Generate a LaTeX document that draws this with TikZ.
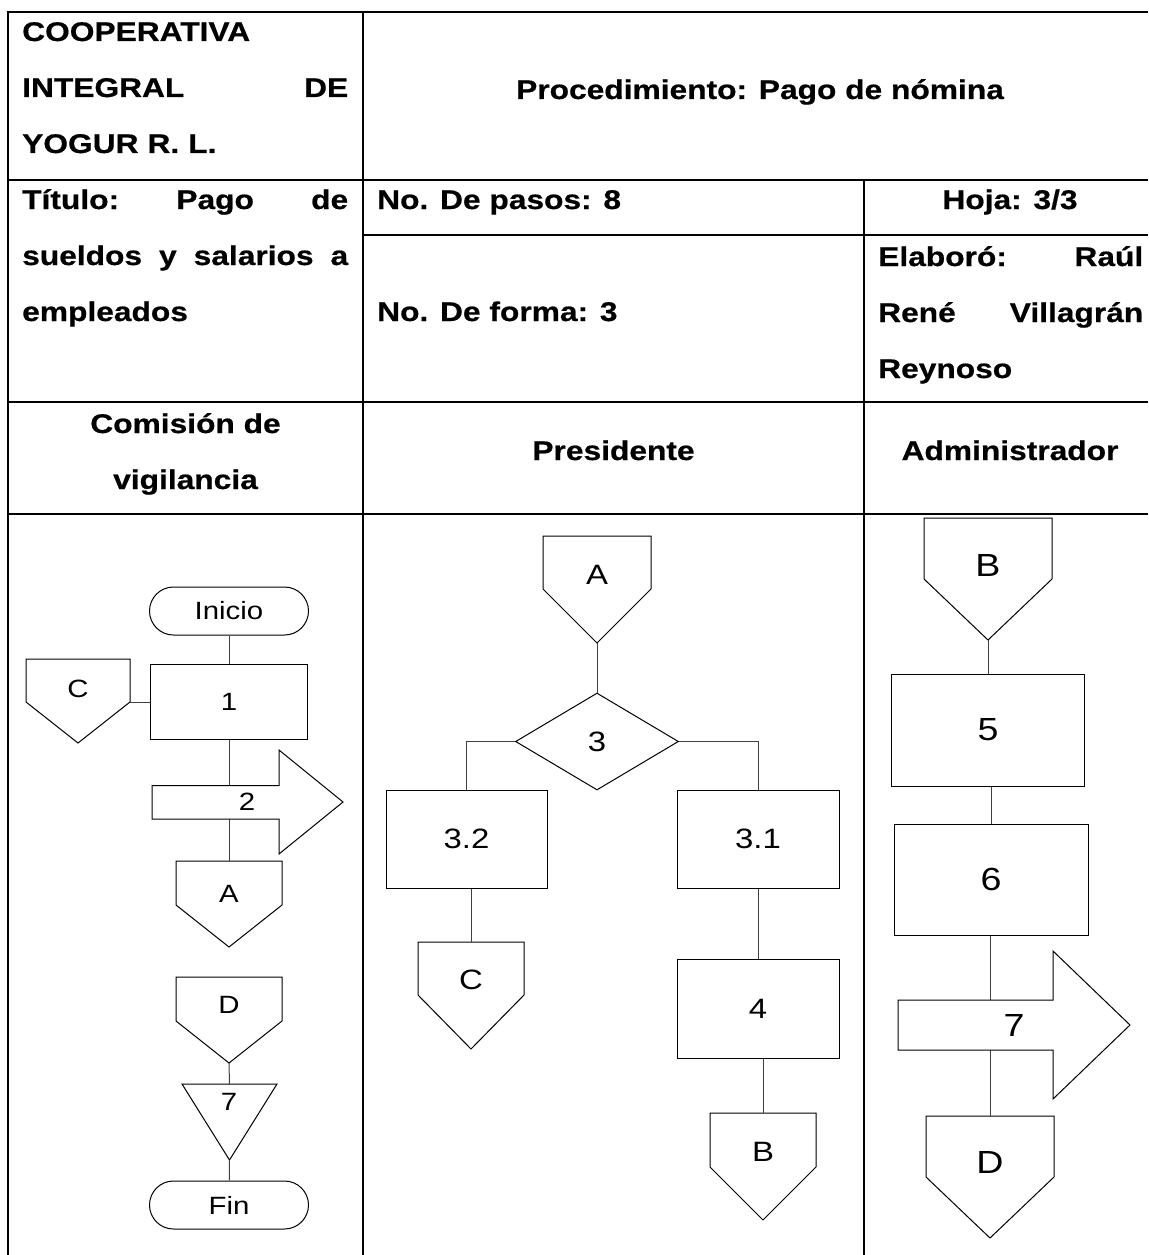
\documentclass[tikz,border=0pt]{standalone}
\usepackage{fontspec}
\setmainfont{Liberation Sans}[FakeStretch=1.175, BoldFeatures={FakeBold=0.6}]
\setlength{\parindent}{0pt}
\usetikzlibrary{positioning,shapes.geometric,shapes.misc}

\tikzset{
  % lineas de la tabla
  rejilla/.style={line width=2.6pt, black},
  % texto del encabezado
  encab/.style={font=\bfseries\fontsize{27}{56}\selectfont, inner sep=0pt},
  % etiquetas del diagrama
  lbl/.style={font=\fontsize{#1}{#1}\selectfont, inner sep=0pt},
  pequena/.style={lbl=25},
  mediana/.style={lbl=28},
  grande/.style={lbl=32},
  % simbolos
  proceso/.style={draw, line width=1pt, rectangle, inner sep=0pt},
  terminal/.style={draw, line width=1pt, rounded rectangle, minimum width=159pt,
    minimum height=48pt, inner sep=0pt},
  decision/.style={draw, line width=1pt, diamond, inner sep=0pt},
  simbolo/.style={draw, line width=1pt, fill=white},
  linea/.style={line width=1pt, black!75},
}

\begin{document}
\begin{tikzpicture}[x=1pt, y=-1pt]
  \useasboundingbox (0,0) rectangle (1148,1255);

  % Tabla
  \draw[rejilla] (1148,12) -- (8,12) -- (8,1255);
  \draw[rejilla] (363,12) -- (363,1255);
  \draw[rejilla] (864,180) -- (864,1255);
  \foreach \y in {180,402,514}
    \draw[rejilla] (8,\y) -- (1148,\y);
  \draw[rejilla] (363,235) -- (1148,235);

  % Encabezado
  \node[encab, text width=326pt, align=left, anchor=base west] (coop) at (22,41)
    {COOPERATIVA\\ INTEGRAL\hfill DE\\ YOGUR R. L.};
  \node[encab, anchor=base] (proc) at (760,99) {Procedimiento: Pago de nómina};
  \node[encab, text width=326pt, align=left, anchor=base west] (titulo) at (22,209)
    {Título:\hfill Pago\hfill de\\ sueldos\hfill y\hfill salarios\hfill a\\ empleados};
  \node[encab, anchor=base west] (pasos) at (377,209) {No. De pasos: 8};
  \node[encab, anchor=base] (hoja) at (1010,209) {Hoja: 3/3};
  \node[encab, anchor=base west] (forma) at (377,321) {No. De forma: 3};
  \node[encab, text width=265pt, align=left, anchor=base west] (elab) at (878,266)
    {Elaboró:\hfill Raúl\\ René\hfill Villagrán\\ Reynoso};
  \node[encab, align=center, anchor=base] (comision) at (185.5,489) {Comisión de\\ vigilancia};
  \node[encab, anchor=base] (pres) at (613.5,460) {Presidente};
  \node[encab, anchor=base] (adm) at (1010,460) {Administrador};

  % Conectores fuera de pagina
  \foreach \nom/\cx/\ar/\hw/\lado/\punta in {conC1/78/659/52/43/41, conA1/229/861/53/44/42,
      conD1/229/977/53/44/42, conA2/597/536/54/53/54, conC2/471/942/53/53/54,
      conB2/763/1113/53/54/53, conB3/988/518/64/61/61, conD3/990/1116/64/61/61}
    \draw[simbolo] (\cx-\hw,\ar) -- (\cx,\ar) coordinate (\nom-top) -- (\cx+\hw,\ar)
      -- (\cx+\hw,\ar+\lado) coordinate (\nom-e) -- (\cx,\ar+\lado+\punta) coordinate (\nom-tip)
      -- (\cx-\hw,\ar+\lado) -- cycle;

  % Triangulo
  \draw[simbolo] (182,1084) -- (229.5,1084) coordinate (tri-top) -- (277,1084)
    -- (229.5,1160) coordinate (tri-tip) -- cycle;

  % Comision de vigilancia
  \node[terminal, pequena] (ini) at (229,611) {Inicio};
  \node[proceso, pequena, minimum width=157pt, minimum height=75pt] (box1) at (229,702) {1};
  \node[terminal, pequena] (fin) at (229,1205) {Fin};

  % Presidente
  \node[decision, mediana, minimum width=163pt, minimum height=97pt] (dec3) at (597,741.5) {3};
  \node[proceso, mediana, minimum width=161pt, minimum height=98pt] (box32) at (466.5,839) {3.2};
  \node[proceso, mediana, minimum width=162pt, minimum height=98pt] (box31) at (758,839) {3.1};
  \node[proceso, mediana, minimum width=162pt, minimum height=99pt] (box4) at (758,1008.5) {4};

  % Administrador
  \node[proceso, grande, minimum width=193pt, minimum height=112pt] (box5) at (988,730) {5};
  \node[proceso, grande, minimum width=194pt, minimum height=111pt] (box6) at (991,879.5) {6};

  % Lineas
  \draw[linea] (ini) -- (box1);
  \draw[linea] (conC1-e) -- (box1.west);
  \draw[linea] (box1) -- (conA1-top);
  \draw[linea] (conD1-tip) -- (tri-top);
  \draw[linea] (tri-tip) -- (fin);
  \draw[linea] (conA2-tip) -- (dec3);
  \draw[linea] (dec3.west) -| (box32);
  \draw[linea] (dec3.east) -| (box31);
  \draw[linea] (box32.south -| conC2-top) -- (conC2-top);
  \draw[linea] (box31) -- (box4);
  \draw[linea] (box4.south -| conB2-top) -- (conB2-top);
  \draw[linea] (conB3-tip) -- (box5);
  \draw[linea] (box5.south -| box6) -- (box6);
  \draw[linea] (box6.south -| conD3-top) -- (conD3-top);

  % Flechas de envio
  \draw[simbolo] (152,785.5) -- (279,785.5) -- (279,750) -- (343,802) -- (279,854)
    -- (279,819) -- (152,819) -- cycle;
  \draw[simbolo] (898,1000) -- (1053,1000) -- (1053,951) -- (1130,1025) -- (1053,1099)
    -- (1053,1050) -- (898,1050) -- cycle;

  % Etiquetas
  \foreach \nom/\x/\y/\txt/\tam in {tC1/78/689/C/25, tA1/229/894/A/25, tD1/229/1005/D/25,
      t2/247/802/2/25, t7a/229/1102/7/25, tA2/597/575/A/28, tC2/471/980/C/28,
      tB2/763/1152/B/28, tB3/988/565/B/32, t7b/1014/1025/7/32, tD3/990/1162/D/32}
    \node[lbl=\tam] (\nom) at (\x,\y) {\txt};
\end{tikzpicture}
\end{document}
